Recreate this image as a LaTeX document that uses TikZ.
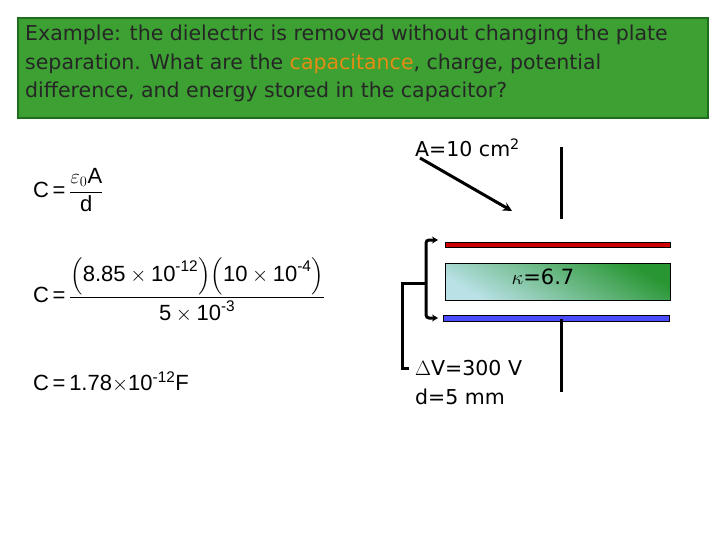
\documentclass[tikz,border=0pt]{standalone}
\usepackage{amsmath}
\usepackage{fontspec}
\setmainfont{DejaVu Sans}
\newfontfamily\eqf{Liberation Sans}
\usetikzlibrary{arrows.meta}
\definecolor{titlegreen}{RGB}{60,160,50}
\definecolor{titleedge}{RGB}{30,110,30}
\definecolor{capor}{RGB}{230,140,20}
\definecolor{dgreen}{RGB}{40,150,50}
\definecolor{dblue}{RGB}{185,225,230}
\begin{document}
\begin{tikzpicture}[x=1pt,y=-1pt,
  lbl/.style={anchor=west,inner sep=0pt,font=\fontsize{20.5}{24}\selectfont},
  eq/.style={anchor=west,inner sep=0pt,font=\eqf\fontsize{22}{26}\selectfont},
  wire/.style={line width=3pt},
  plate/.style={draw=black,line width=0.4pt}]
\useasboundingbox (0,0) rectangle (720,540);
\node[draw=titleedge,line width=2pt,fill=titlegreen,minimum width=690,minimum height=100,anchor=north west,inner sep=0pt] (title) at (17,17) {};
\node[anchor=north west,align=left,inner sep=0pt,font=\fontsize{20.5}{28.5}\selectfont,text=black!85] (tt) at (25,25)
 {Example: the dielectric is removed without changing the plate\\ separation. What are the \textcolor{capor}{capacitance}, charge, potential\\ difference, and energy stored in the capacitor?};
% equations
\node[eq] (e1) at (33,190) {C\,=\,$\dfrac{\varepsilon_0\text{A}}{\text{d}}$};
\node[eq] (e2) at (33,290) {C\,=\,$\dfrac{\Bigl(\text{8.85}\times\text{10}^{\text{-12}}\Bigr)\Bigl(\text{10}\times\text{10}^{\text{-4}}\Bigr)}{\text{5}\times\text{10}^{\text{-3}}}$};
\node[eq] (e3) at (33,382) {C\,=\,1.78$\times$10$^{\text{-12}}$F};
% capacitor
\node[lbl] (A) at (415,148) {A=10 cm$^{\text{2}}$};
\coordinate (ast) at (420,158);
\coordinate (aen) at (512,211);
\draw[wire,-{Stealth[length=9pt,width=9pt]}] (ast) -- (aen);
\coordinate (tw1) at (561,147); \coordinate (tw2) at (561,219);
\draw[wire] (tw1) -- (tw2);
\node[plate,fill=red!80!black,minimum width=225,minimum height=5,inner sep=0pt,anchor=north west] (top) at (445,242) {};
\shade[bottom color=dblue,top color=dgreen,shading angle=-30,draw=black] (445,263) rectangle (670,300);
\node (dk) at (543,277) {\fontsize{21}{24}\selectfont$\kappa$=6.7};
\node[plate,fill=blue!70!white,minimum width=226,minimum height=6,inner sep=0pt,anchor=north west] (bot) at (443,315) {};
\coordinate (bw1) at (561,319); \coordinate (bw2) at (561,392);
\draw[wire] (bw1) -- (bw2);
% bracket
\coordinate (b1) at (438,240); \coordinate (b2) at (438,318);
\draw[wire,{Stealth[length=6pt,width=7pt]}-{Stealth[length=6pt,width=7pt]},rounded corners=3pt] (b1) -- (426,240) -- (426,318) -- (b2);
\draw[wire] (426,283) -- (402,283) -- (402,368) -- (409,368);
\node[lbl] (dv) at (415,368) {$\Delta$V=300 V};
\node[lbl] (d) at (415,397) {d=5 mm};
\end{tikzpicture}
\end{document}
